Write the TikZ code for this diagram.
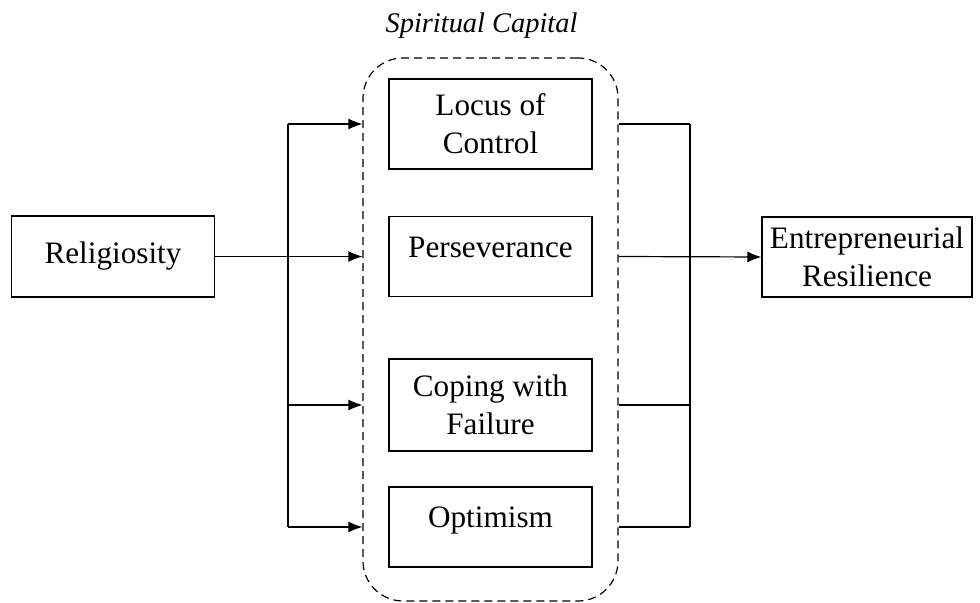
\documentclass[tikz,border=0pt]{standalone}
\usepackage{fontspec}
\setmainfont{Liberation Serif}
\usetikzlibrary{arrows.meta}
\tikzset{
  box/.style={draw, line width=0.6pt, minimum width=101.5pt, inner xsep=2pt, align=center,
    font=\fontsize{15.6}{19}\selectfont},
  oneline/.style={text height=10pt, text depth=9pt},
  group/.style={draw, dashed, dash pattern=on 4pt off 2.5pt, line width=0.6pt, rounded corners=20pt,
    minimum width=127.5pt, minimum height=271.5pt},
  arr/.style={-{Latex[length=7pt,width=5.5pt]}}
}
\begin{document}
\begin{tikzpicture}[x=0.5pt, y=-0.5pt, line width=0.6pt]
			\useasboundingbox (0,0) rectangle (980,603);
			\node (sc) [group] at (490.5,329.5) {};
			\node (title) at (481.5,26) {\fontsize{14.2}{17}\selectfont\itshape Spiritual Capital};
			\node (relig) [box, minimum height=40.5pt] at (113,256.5) {Religiosity};
			\node (locus) [box, minimum height=45pt] at (490.5,124) {Locus of\\Control};
			\node (persev) [box, oneline, minimum height=40pt] at (490.5,256.5) {Perseverance};
			\node (coping) [box, minimum height=46pt] at (490.5,405) {Coping with\\Failure};
			\node (optim) [box, oneline, minimum height=40pt] at (490.5,527) {Optimism};
			\node (entre) [box, minimum width=105pt, minimum height=40pt] at (867,257) {Entrepreneurial\\Resilience};
			\coordinate (lj) at (288,0);
			\coordinate (rj) at (690,0);
			% left side
			\draw (lj |- locus) -- (lj |- optim);
			\draw[arr] (relig.east) -- (relig.east -| sc.west);
			\draw[arr] (lj |- locus) -- (locus -| sc.west);
			\draw[arr] (lj |- coping) -- (coping -| sc.west);
			\draw[arr] (lj |- optim) -- (optim -| sc.west);
			% right side
			\draw (rj |- locus) -- (rj |- optim);
			\draw (locus -| sc.east) -- (rj |- locus);
			\draw (coping -| sc.east) -- (rj |- coping);
			\draw (optim -| sc.east) -- (rj |- optim);
			\draw[arr] (persev -| sc.east) -- (entre.west);
		\end{tikzpicture}
\end{document}
